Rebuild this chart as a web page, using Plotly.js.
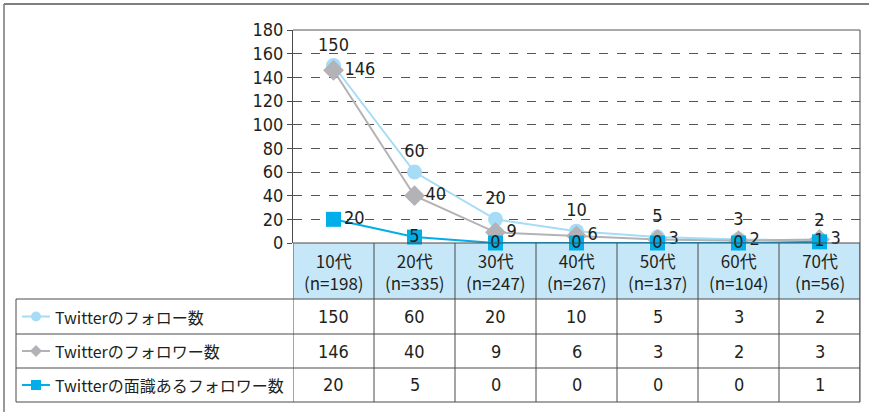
<!DOCTYPE html>
<html>
<head>
<meta charset="utf-8">
<script src="https://cdn.plot.ly/plotly-3.0.1.min.js"></script>
<style>html,body{margin:0;padding:0;background:#fff;}#chart{width:869px;height:412px;}</style>
</head>
<body>
<div id="chart"></div>
<script>
// ---- data ----
const categories = ['10代','20代','30代','40代','50代','60代','70代'];
const sampleSizes = ['(n=198)','(n=335)','(n=247)','(n=267)','(n=137)','(n=104)','(n=56)'];
const seriesNames = ['Twitterのフォロー数','Twitterのフォロワー数','Twitterの面識あるフォロワー数'];
const followCount = [150, 60, 20, 10, 5, 3, 2];
const followerCount = [146, 40, 9, 6, 3, 2, 3];
const knownFollowerCount = [20, 5, 0, 0, 0, 0, 1];
const yTicks = [0, 20, 40, 60, 80, 100, 120, 140, 160, 180];

// ---- layout geometry (pixels) ----
const W = 869, H = 412;
const L = 293, R = 860, T = 30, B = 243;
const px = x => (x - L) / (R - L);
const py = y => (B - y) / (B - T);

const numFont = 'Liberation Sans Narrow, DejaVu Sans Condensed, Roboto, sans-serif';
const jpFont = 'Liberation Sans Narrow, Noto Sans CJK JP, sans-serif';
const txt = '#231f20';
const colors = ['#a6dcf5', '#b3b3b7', '#00aee9'];
const symbols = ['circle', 'diamond', 'square'];
const series = [followCount, followerCount, knownFollowerCount];
const xs = categories.map((c, i) => i);

const traces = [
  {
    x: xs, y: followCount, name: seriesNames[0], type: 'scatter', mode: 'lines+markers+text',
    line: {color: colors[0], width: 2}, marker: {symbol: 'circle', size: 15, color: colors[0]},
    text: followCount.map(String), textposition: 'top center',
    textfont: {family: numFont, size: 18, color: txt}, cliponaxis: false
  },
  {
    x: xs, y: followerCount, name: seriesNames[1], type: 'scatter', mode: 'lines+markers+text',
    line: {color: colors[1], width: 2}, marker: {symbol: 'diamond', size: 16, color: colors[1]},
    text: followerCount.map(String), textposition: 'middle right',
    textfont: {family: numFont, size: 18, color: txt}, cliponaxis: false
  },
  {
    x: xs, y: knownFollowerCount, name: seriesNames[2], type: 'scatter', mode: 'lines+markers+text',
    line: {color: colors[2], width: 2}, marker: {symbol: 'square', size: 15, color: colors[2]},
    text: knownFollowerCount.map(String),
    textposition: knownFollowerCount.map((v, i) => i === 0 ? 'middle right' : 'middle center'),
    textfont: {family: numFont, size: 18, color: txt}, cliponaxis: false
  }
];

const shapes = [];
const annotations = [];
const lineColor = '#4a4a4a';
// outer frame
shapes.push({type: 'line', xref: 'paper', yref: 'paper', x0: px(4), x1: px(869), y0: py(4), y1: py(4), line: {color: '#555', width: 1.5}});
shapes.push({type: 'line', xref: 'paper', yref: 'paper', x0: px(4), x1: px(4), y0: py(4), y1: py(412), line: {color: '#777', width: 1.5}});
// plot frame top / right
shapes.push({type: 'line', xref: 'paper', yref: 'paper', x0: 0, x1: 1, y0: 1, y1: 1, line: {color: '#555', width: 1}});
shapes.push({type: 'line', xref: 'paper', yref: 'paper', x0: 1, x1: 1, y0: 1, y1: py(402), line: {color: lineColor, width: 1}});
// header fill
shapes.push({type: 'rect', xref: 'paper', yref: 'paper', x0: 0, x1: 1, y0: py(299), y1: 0, fillcolor: '#c6e7f8', line: {width: 0}, layer: 'below'});
// header top line (axis baseline)
shapes.push({type: 'line', xref: 'paper', yref: 'paper', x0: 0, x1: 1, y0: 0, y1: 0, line: {color: lineColor, width: 1}});
// column lines
for (let i = 0; i <= categories.length; i++) {
  shapes.push({type: 'line', xref: 'x', yref: 'paper', x0: i - 0.5, x1: i - 0.5, y0: 0, y1: py(402), line: {color: lineColor, width: 1}});
}
// table rows
const rowLines = [299, 334, 368, 402];
rowLines.forEach(y => shapes.push({type: 'line', xref: 'paper', yref: 'paper', x0: px(16), x1: 1, y0: py(y), y1: py(y), line: {color: lineColor, width: 1}}));
shapes.push({type: 'line', xref: 'paper', yref: 'paper', x0: px(16), x1: px(16), y0: py(299), y1: py(402), line: {color: lineColor, width: 1}});

// header labels
categories.forEach((c, i) => {
  annotations.push({x: i, xref: 'x', y: py(271), yref: 'paper', text: c + '<br>' + sampleSizes[i], showarrow: false,
    font: {family: jpFont, size: 17, color: txt}, align: 'center', yanchor: 'middle'});
});

// table rows content
const rowCenters = [316.5, 351, 385];
series.forEach((vals, s) => {
  const yc = rowCenters[s];
  // legend symbol line
  shapes.push({type: 'line', xref: 'paper', yref: 'paper', x0: px(22), x1: px(50), y0: py(yc), y1: py(yc), line: {color: colors[s], width: 2}});
  if (symbols[s] === 'circle') {
    shapes.push({type: 'circle', xref: 'paper', yref: 'paper', x0: px(31), x1: px(41), y0: py(yc - 5), y1: py(yc + 5), fillcolor: colors[s], line: {width: 0}});
  } else if (symbols[s] === 'diamond') {
    const path = 'M ' + px(36) + ' ' + py(yc - 6) + ' L ' + px(42) + ' ' + py(yc) + ' L ' + px(36) + ' ' + py(yc + 6) + ' L ' + px(30) + ' ' + py(yc) + ' Z';
    shapes.push({type: 'path', xref: 'paper', yref: 'paper', path: path, fillcolor: colors[s], line: {width: 0}});
  } else {
    shapes.push({type: 'rect', xref: 'paper', yref: 'paper', x0: px(31), x1: px(41), y0: py(yc - 5), y1: py(yc + 5), fillcolor: colors[s], line: {width: 0}});
  }
  annotations.push({x: px(53), xref: 'paper', xanchor: 'left', y: py(yc), yref: 'paper', yanchor: 'middle',
    text: seriesNames[s], showarrow: false, font: {family: jpFont, size: 16, color: txt}});
  vals.forEach((v, i) => {
    annotations.push({x: i, xref: 'x', y: py(yc), yref: 'paper', yanchor: 'middle', text: String(v), showarrow: false,
      font: {family: numFont, size: 18, color: txt}});
  });
});

const layout = {
  width: W, height: H,
  margin: {l: L, r: W - R, t: T, b: H - B, pad: 0},
  paper_bgcolor: '#fff', plot_bgcolor: 'rgba(0,0,0,0)',
  showlegend: false,
  font: {family: numFont, color: txt},
  xaxis: {range: [-0.5, 6.5], showticklabels: false, showgrid: false, zeroline: false, showline: false, ticks: '', fixedrange: true},
  yaxis: {range: [0, 180], tickvals: yTicks, ticktext: yTicks.map(String), showline: true, linecolor: lineColor, linewidth: 1,
    ticks: 'outside', ticklen: 5, tickcolor: lineColor, tickfont: {family: numFont, size: 18, color: txt},
    showgrid: true, gridcolor: '#555', griddash: 'dash', gridwidth: 1, zeroline: false, fixedrange: true},
  shapes: shapes,
  annotations: annotations
};

Plotly.newPlot('chart', traces, layout, {displayModeBar: false, staticPlot: true});
</script>
</body>
</html>
